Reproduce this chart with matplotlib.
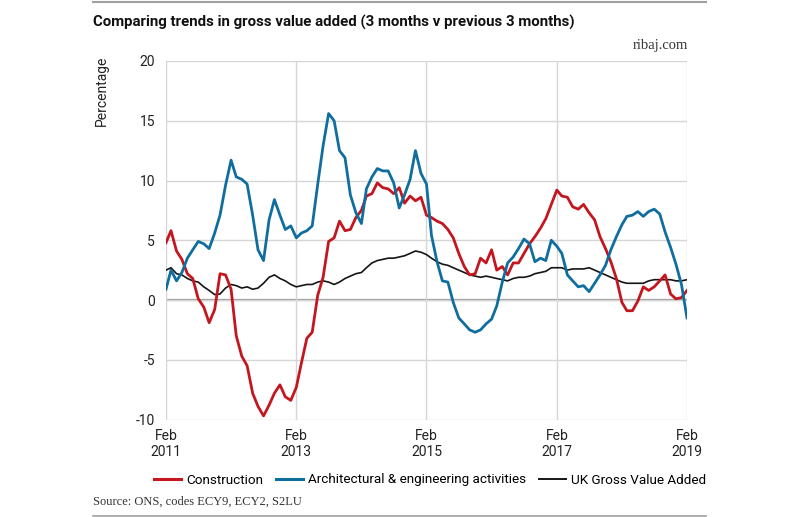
import matplotlib
matplotlib.use("Agg")
import matplotlib.pyplot as plt
from matplotlib.lines import Line2D
import pandas as pd

months = pd.date_range("2011-02-01", periods=97, freq="MS")

construction = [
    4.8, 5.8, 4.1, 3.4, 2.2, 1.8, 0.1, -0.6, -1.9, -0.8,
    2.2, 2.1, 0.9, -3.0, -4.7, -5.5, -7.8, -8.9, -9.7, -8.8,
    -7.8, -7.1, -8.1, -8.4, -7.3, -5.3, -3.2, -2.7, 0.4, 1.9,
    4.9, 5.2, 6.6, 5.8, 5.9, 6.9, 7.5, 8.7, 8.9, 9.8,
    9.4, 9.3, 8.9, 9.4, 8.1, 8.7, 8.3, 8.6, 7.1, 6.9,
    6.6, 6.4, 5.9, 5.2, 3.9, 2.8, 2.1, 2.2, 3.5, 3.1,
    4.2, 2.5, 2.8, 2.1, 3.1, 3.1, 3.9, 4.7, 5.3, 6.0,
    6.8, 8.0, 9.2, 8.7, 8.6, 7.8, 7.6, 8.0, 7.3, 6.7,
    5.3, 4.3, 3.2, 1.8, -0.2, -0.9, -0.9, -0.1, 1.1, 0.8,
    1.1, 1.6, 2.1, 0.5, 0.1, 0.2, 0.8,
]

architectural = [
    0.9, 2.5, 1.6, 2.3, 3.5, 4.2, 4.9, 4.7, 4.3, 5.6,
    7.1, 9.6, 11.7, 10.3, 10.1, 9.7, 7.1, 4.2, 3.3, 6.7,
    8.4, 7.1, 5.9, 6.2, 5.2, 5.6, 5.8, 6.2, 9.7, 12.9,
    15.6, 15.0, 12.5, 11.9, 8.8, 7.3, 6.4, 9.3, 10.3, 11.0,
    10.8, 10.8, 9.8, 7.7, 8.8, 10.1, 12.5, 10.6, 9.7, 5.4,
    3.2, 1.6, 1.5, -0.2, -1.5, -2.0, -2.5, -2.7, -2.5, -2.0,
    -1.6, -0.5, 1.5, 3.1, 3.6, 4.3, 5.1, 4.7, 3.2, 3.5,
    3.3, 5.0, 4.5, 3.9, 2.1, 1.6, 1.1, 1.2, 0.7, 1.4,
    2.1, 2.9, 4.2, 5.3, 6.3, 7.0, 7.1, 7.4, 7.0, 7.4,
    7.6, 7.2, 5.7, 4.4, 3.0, 1.3, -1.5,
]

uk_gva = [
    2.5, 2.7, 2.2, 2.1, 1.8, 1.6, 1.5, 1.1, 0.8, 0.45,
    0.5, 1.0, 1.3, 1.2, 1.0, 1.1, 0.9, 1.0, 1.4, 1.9,
    2.1, 1.8, 1.6, 1.3, 1.1, 1.2, 1.3, 1.3, 1.5, 1.6,
    1.5, 1.3, 1.5, 1.8, 2.0, 2.2, 2.3, 2.7, 3.1, 3.3,
    3.4, 3.5, 3.5, 3.6, 3.7, 3.9, 4.1, 4.0, 3.8, 3.5,
    3.2, 3.0, 2.9, 2.7, 2.5, 2.3, 2.1, 2.0, 1.9, 2.0,
    1.9, 1.8, 1.7, 1.6, 1.8, 1.9, 1.9, 2.0, 2.2, 2.3,
    2.4, 2.7, 2.7, 2.7, 2.5, 2.6, 2.6, 2.6, 2.7, 2.5,
    2.3, 2.1, 1.9, 1.7, 1.5, 1.4, 1.4, 1.4, 1.4, 1.6,
    1.7, 1.7, 1.7, 1.7, 1.6, 1.6, 1.7,
]

tick_dates = pd.to_datetime(["2011-02-01", "2013-02-01", "2015-02-01", "2017-02-01", "2019-02-01"])
tick_labels = ["Feb\n2011", "Feb\n2013", "Feb\n2015", "Feb\n2017", "Feb\n2019"]
y_ticks = [-10, -5, 0, 5, 10, 15, 20]
series_names = ["Construction", "Architectural & engineering activities", "UK Gross Value Added"]

RED = "#c3161f"
BLUE = "#0f6e9e"
BLACK = "#151515"
SANS = ["Roboto", "DejaVu Sans"]
SERIF = ["Liberation Serif", "DejaVu Serif"]

W, H = 799, 517
fig = plt.figure(figsize=(W / 100, H / 100), dpi=100)
left, right, top, bottom = 166, 687, 61, 419.5
ax = fig.add_axes([left / W, 1 - bottom / H, (right - left) / W, (bottom - top) / H])

ax.plot(months, uk_gva, color=BLACK, lw=1.2, zorder=3)
ax.plot(months, construction, color=RED, lw=2.0, zorder=4)
ax.plot(months, architectural, color=BLUE, lw=2.0, zorder=5)

ax.set_xlim(months[0], months[-1])
ax.set_ylim(-10, 20)
ax.set_xticks(tick_dates)
ax.set_xticklabels(tick_labels, fontfamily=SANS, fontsize=10, color="#222222", linespacing=1.14)
ax.set_yticks(y_ticks)
ax.set_yticklabels([str(v) for v in y_ticks], fontfamily=SANS, fontsize=10, color="#222222")
ax.tick_params(axis="both", length=0)
ax.tick_params(axis="y", pad=8)
ax.tick_params(axis="x", pad=7)
ax.grid(True, color="#d6d6d6", lw=1.0, zorder=0)
ax.axhline(0, color="#9a9a9a", lw=1.6, zorder=1)
for s in ax.spines.values():
    s.set_visible(False)

fig.text(101.7 / W, 1 - 91 / H, "Percentage", rotation=90, ha="center", va="center",
         fontfamily=SANS, fontsize=10, color="#222222")

fig.text(93 / W, 1 - 22 / H, "Comparing trends in gross value added (3 months v previous 3 months)",
         ha="left", va="center", fontfamily=SANS, fontsize=10.8, fontweight="bold", color="#111111")
fig.text(688 / W, 1 - 45.5 / H, "ribaj.com", ha="right", va="center",
         fontfamily=SERIF, fontsize=10.5, color="#333333")
fig.text(93 / W, 1 - 502 / H, "Source: ONS, codes ECY9, ECY2, S2LU", ha="left", va="center",
         fontfamily=SERIF, fontsize=9, color="#333333")

fig.add_artist(Line2D([93 / W, 706 / W], [1 - 1.5 / H, 1 - 1.5 / H], color="#a0a0a0", lw=1.5))
fig.add_artist(Line2D([93 / W, 706 / W], [1 - 515.5 / H, 1 - 515.5 / H], color="#a0a0a0", lw=1.2))

handles = [Line2D([], [], color=RED, lw=2.2),
           Line2D([], [], color=BLUE, lw=2.2),
           Line2D([], [], color=BLACK, lw=1.4)]
fig.legend(handles, series_names, loc="center right", bbox_to_anchor=(706 / W, 1 - 480 / H),
           ncol=3, frameon=False, handlelength=2.0, handletextpad=0.37, columnspacing=0.95,
           borderpad=0, borderaxespad=0,
           prop={"family": SANS, "size": 9.7})

fig.savefig("out.png", dpi=100)
